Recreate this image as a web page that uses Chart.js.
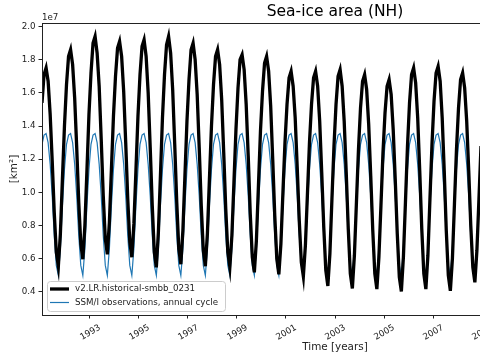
<!DOCTYPE html>
<html lang="en">
<head>
    <meta charset="UTF-8">
    <title>Sea-ice area (NH)</title>
    <script src="https://cdn.jsdelivr.net/npm/chart.js@4/dist/chart.umd.min.js"></script>
    <style>
        html, body {
            margin: 0;
            padding: 0;
            width: 480px;
            height: 360px;
            overflow: hidden;
            background: #fff;
        }
        #wrap {
            width: 670px;
            height: 360px;
        }
    </style>
</head>
<body>
<div id="wrap"><canvas id="seaIce" width="670" height="360"></canvas></div>
<script>
// values in units of 1e7 km2
const years = [1991, 1992, 1993, 1994, 1995, 1996, 1997, 1998, 1999,
               2000, 2001, 2002, 2003, 2004, 2005, 2006, 2007, 2008];

// model run, monthly (Jan..Dec), one line per year
const modelArea = [
    1.54, 1.71, 1.75, 1.67, 1.47, 1.19, 0.88, 0.64, 0.555, 0.75, 1.08, 1.40, // 1991
    1.65, 1.82, 1.86, 1.77, 1.57, 1.27, 0.94, 0.69, 0.597, 0.80, 1.13, 1.47, // 1992
    1.72, 1.90, 1.94, 1.84, 1.64, 1.32, 0.98, 0.72, 0.627, 0.82, 1.14, 1.46, // 1993
    1.70, 1.87, 1.91, 1.82, 1.61, 1.30, 0.96, 0.70, 0.609, 0.81, 1.13, 1.46, // 1994
    1.71, 1.88, 1.92, 1.82, 1.60, 1.27, 0.92, 0.64, 0.548, 0.76, 1.10, 1.45, // 1995
    1.71, 1.89, 1.94, 1.84, 1.62, 1.29, 0.94, 0.66, 0.567, 0.77, 1.10, 1.43, // 1996
    1.68, 1.86, 1.90, 1.80, 1.59, 1.27, 0.92, 0.65, 0.555, 0.75, 1.08, 1.40, // 1997
    1.65, 1.82, 1.86, 1.77, 1.56, 1.24, 0.90, 0.64, 0.550, 0.74, 1.06, 1.38, // 1998
    1.63, 1.80, 1.83, 1.74, 1.53, 1.22, 0.87, 0.61, 0.518, 0.71, 1.04, 1.37, // 1999
    1.61, 1.78, 1.82, 1.73, 1.52, 1.20, 0.86, 0.60, 0.506, 0.69, 1.00, 1.30, // 2000
    1.53, 1.69, 1.73, 1.64, 1.45, 1.15, 0.83, 0.58, 0.494, 0.68, 0.99, 1.30, // 2001
    1.53, 1.69, 1.73, 1.64, 1.43, 1.12, 0.79, 0.53, 0.436, 0.63, 0.96, 1.28, // 2002
    1.53, 1.70, 1.74, 1.64, 1.43, 1.12, 0.78, 0.51, 0.421, 0.62, 0.94, 1.26, // 2003
    1.51, 1.67, 1.71, 1.62, 1.41, 1.10, 0.77, 0.51, 0.417, 0.61, 0.92, 1.24, // 2004
    1.48, 1.64, 1.68, 1.59, 1.38, 1.08, 0.75, 0.49, 0.403, 0.61, 0.94, 1.28, // 2005
    1.54, 1.71, 1.75, 1.66, 1.45, 1.13, 0.78, 0.51, 0.417, 0.62, 0.96, 1.29, // 2006
    1.55, 1.72, 1.76, 1.67, 1.45, 1.13, 0.77, 0.50, 0.407, 0.60, 0.93, 1.26, // 2007
    1.51, 1.68, 1.72, 1.63, 1.43, 1.13, 0.80, 0.55, 0.458, 0.65, 0.96, 1.28  // 2008
];

// SSM/I climatological annual cycle (Jan..Dec), repeated every year
const obsCycle = [1.29, 1.345, 1.355, 1.30, 1.17, 0.98, 0.74, 0.56, 0.50, 0.66, 0.92, 1.14];

const yearTicks = [1993, 1995, 1997, 1999, 2001, 2003, 2005, 2007, 2009, 2011, 2013];
const areaTicks = [0.4, 0.6, 0.8, 1.0, 1.2, 1.4, 1.6, 1.8, 2.0];

const modelLabel = 'v2.LR.historical-smbb_0231';
const obsLabel = 'SSM/I observations, annual cycle';

// monthly points placed at mid-month
var modelPts = [];
var obsPts = [];
years.forEach((y, i) => {
    for (let m = 0; m < 12; m++) {
        const t = y + (m + 0.5) / 12;
        modelPts.push({ x: t, y: modelArea[i * 12 + m] });
        obsPts.push({ x: t, y: obsCycle[m] });
    }
});

const FONT = "'DejaVu Sans', sans-serif";

// box around the axes, "1e7" offset text and the legend
const extras = {
    id: 'extras',
    afterDraw(chart) {
        const ctx = chart.ctx;
        const a = chart.chartArea;
        ctx.save();
        ctx.strokeStyle = '#222';
        ctx.lineWidth = 1;
        ctx.strokeRect(a.left + 0.5, a.top + 0.5, a.right - a.left, a.bottom - a.top);

        ctx.fillStyle = '#222';
        ctx.font = '8.7px ' + FONT;
        ctx.textAlign = 'left';
        ctx.textBaseline = 'bottom';
        ctx.fillText('1e7', a.left, a.top - 1);

        // legend (lower left)
        const lx = a.left + 5, ly = a.bottom - 34, lw = 178, lh = 30;
        ctx.beginPath();
        ctx.roundRect(lx + 0.5, ly + 0.5, lw, lh, 3);
        ctx.fillStyle = 'rgba(255,255,255,0.8)';
        ctx.fill();
        ctx.strokeStyle = '#cccccc';
        ctx.stroke();

        const ds = chart.data.datasets;
        ds.forEach((d, i) => {
            const yy = ly + 8 + i * 13.5;
            ctx.beginPath();
            ctx.moveTo(lx + 3, yy);
            ctx.lineTo(lx + 22, yy);
            ctx.strokeStyle = d.borderColor;
            ctx.lineWidth = d.borderWidth;
            ctx.stroke();
            ctx.fillStyle = '#222';
            ctx.textBaseline = 'middle';
            ctx.fillText(d.label, lx + 28, yy);
        });
        ctx.restore();
    }
};

new Chart(document.getElementById('seaIce'), {
    type: 'line',
    data: {
        datasets: [
            {
                label: modelLabel,
                data: modelPts,
                borderColor: '#000000',
                borderWidth: 3.3,
                pointRadius: 0,
                tension: 0
            },
            {
                label: obsLabel,
                data: obsPts,
                borderColor: '#1f77b4',
                borderWidth: 1.2,
                pointRadius: 0,
                tension: 0
            }
        ]
    },
    options: {
        responsive: false,
        animation: false,
        plugins: {
            legend: { display: false },
            tooltip: { enabled: false },
            title: {
                display: true,
                text: 'Sea-ice area (NH)',
                color: '#000',
                font: { family: FONT, size: 15.5, weight: 'normal' },
                padding: { top: 3, bottom: 1.4 }
            }
        },
        scales: {
            x: {
                type: 'linear',
                min: 1991 + 0.5 / 12,
                max: 2014 + 11.5 / 12,
                afterFit: (s) => { s.height = 45; },
                afterBuildTicks: (s) => { s.ticks = yearTicks.map(v => ({ value: v })); },
                grid: { drawOnChartArea: false, drawTicks: true, tickLength: 3.5, tickColor: '#222' },
                border: { display: true, color: '#222', width: 1 },
                ticks: {
                    autoSkip: false,
                    minRotation: 30,
                    maxRotation: 30,
                    labelOffset: 10,
                    padding: 4,
                    color: '#222',
                    font: { family: FONT, size: 8.7 },
                    callback: (v) => String(v)
                },
                title: {
                    display: true,
                    text: 'Time [years]',
                    color: '#222',
                    font: { family: FONT, size: 10.4 },
                    padding: { top: 0, bottom: 6 }
                }
            },
            y: {
                min: 0.261,
                max: 2.021,
                afterFit: (s) => { s.width = 42; },
                afterBuildTicks: (s) => { s.ticks = areaTicks.map(v => ({ value: v })); },
                grid: { drawOnChartArea: false, drawTicks: true, tickLength: 3.5, tickColor: '#222' },
                border: { display: true, color: '#222', width: 1 },
                ticks: {
                    padding: 3,
                    color: '#222',
                    font: { family: FONT, size: 8.7 },
                    callback: (v) => Number(v).toFixed(1)
                },
                title: {
                    display: true,
                    text: '[km²]',
                    color: '#222',
                    font: { family: FONT, size: 10.4 },
                    padding: { top: 8, bottom: 0 }
                }
            },
            // empty right-hand strip so the axes end where the original figure's did
            yRight: {
                position: 'right',
                min: 0.261,
                max: 2.021,
                afterFit: (s) => { s.width = 42; },
                grid: { display: false },
                border: { display: false },
                ticks: { display: false }
            }
        }
    },
    plugins: [extras]
});
</script>
</body>
</html>
